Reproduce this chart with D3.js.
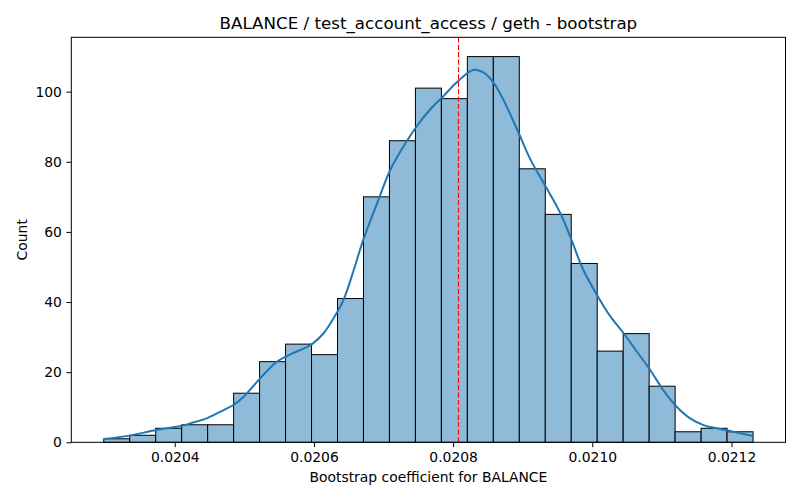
<!DOCTYPE html>
<html>
<head>
<meta charset="utf-8">
<script src="https://cdn.jsdelivr.net/npm/d3@7"></script>
<style>
  html, body { margin: 0; padding: 0; background: #fff; }
  svg { display: block; font-family: "DejaVu Sans", sans-serif; }
</style>
</head>
<body>
<svg id="chart" width="800" height="500"></svg>
<script>
// ---- data ----
const binStart = 0.020298;
const binWidth = 0.00003732;
const counts = [1, 2, 4, 5, 5, 14, 23, 28, 25, 41, 70, 86, 101, 98, 110, 110, 78, 65, 51, 26, 31, 16, 3, 4, 3];
const kdeX = [0.020298, 0.020335, 0.020373, 0.020410, 0.0204225, 0.0204465, 0.0204704, 0.0204847, 0.0204991, 0.0205230,
              0.0205470, 0.0205661, 0.0205852, 0.0205973, 0.0206139, 0.0206283, 0.0206427, 0.020657, 0.020671, 0.020691,
              0.020710, 0.020729, 0.020748, 0.020767, 0.020786, 0.020805, 0.020829, 0.020844, 0.020858, 0.020872,
              0.020892, 0.020911, 0.020930, 0.020954, 0.020970, 0.020987, 0.021008, 0.021026, 0.021045, 0.021064,
              0.021083, 0.021102, 0.021121, 0.021140, 0.021160, 0.021179, 0.021198, 0.021231];
const kdeY = [0.95, 1.9, 3.5, 4.7, 5.4, 6.9, 9.2, 10.7, 13.0, 18.3,
              23.0, 25.1, 26.7, 28.0, 31.1, 35.4, 40.7, 49.0, 57.8, 68.3,
              77.8, 84.5, 90.2, 94.9, 98.7, 102.6, 106.2, 105.4, 102.6, 97.8,
              89.2, 80.7, 74.0, 65.4, 57.8, 49.2, 41.6, 35.9, 31.1, 25.9,
              20.7, 14.9, 10.2, 6.9, 4.9, 4.0, 3.2, 1.8];
const meanValue = 0.020807;
const xTicks = [0.0204, 0.0206, 0.0208, 0.0210, 0.0212];
const yTicks = [0, 20, 40, 60, 80, 100];
const titleText = "BALANCE / test_account_access / geth - bootstrap";
const xLabel = "Bootstrap coefficient for BALANCE";
const yLabel = "Count";

// ---- layout ----
const svg = d3.select("#chart");
const mLeft = 71.3, mRight = 785.5, mTop = 37.3, mBottom = 442.3;

const bins = counts.map((c, i) => ({ x0: binStart + i * binWidth, x1: binStart + (i + 1) * binWidth, c }));
const xMin = binStart, xMax = binStart + counts.length * binWidth;
const xPad = (xMax - xMin) * 0.05;
const x = d3.scaleLinear().domain([xMin - xPad, xMax + xPad]).range([mLeft, mRight]);
const yMax = Math.max(d3.max(counts), d3.max(kdeY)) * 1.05;
const y = d3.scaleLinear().domain([0, yMax]).range([mBottom, mTop]);

// bars
svg.append("g").selectAll("rect").data(bins).enter().append("rect")
  .attr("x", d => x(d.x0))
  .attr("y", d => y(d.c))
  .attr("width", d => x(d.x1) - x(d.x0))
  .attr("height", d => y(0) - y(d.c))
  .attr("fill", "#8fbbd9")
  .attr("stroke", "#000")
  .attr("stroke-width", 1);

// kde
const kde = kdeX.map((v, i) => [v, kdeY[i]]);
svg.append("path").datum(kde)
  .attr("d", d3.line().x(d => x(d[0])).y(d => y(d[1])).curve(d3.curveCatmullRom.alpha(0.5)))
  .attr("fill", "none")
  .attr("stroke", "#1f77b4")
  .attr("stroke-width", 2)
  .attr("stroke-linecap", "round");

// mean line
const mx = Math.round(x(meanValue)) + 0.5;
svg.append("line")
  .attr("x1", mx).attr("x2", mx)
  .attr("y1", mTop).attr("y2", mBottom)
  .attr("stroke", "red").attr("stroke-width", 1.1)
  .attr("stroke-dasharray", "5.2,2.2");

// axes
const xAxis = d3.axisBottom(x).tickValues(xTicks).tickFormat(d3.format(".4f")).tickSize(4.9).tickPadding(4.5);
const yAxis = d3.axisLeft(y).tickValues(yTicks).tickSize(4.9).tickPadding(4.5);

const gx = svg.append("g").attr("transform", `translate(0,${mBottom})`).call(xAxis);
const gy = svg.append("g").attr("transform", `translate(${mLeft},0)`).call(yAxis);
[gx, gy].forEach(g => {
  g.select(".domain").remove();
  g.selectAll(".tick line").attr("stroke", "#000").attr("stroke-width", 1);
  g.selectAll(".tick text").attr("fill", "#000").style("font-size", "13.9px").style("font-family", "DejaVu Sans");
});

// frame
svg.append("rect")
  .attr("x", mLeft).attr("y", mTop)
  .attr("width", mRight - mLeft).attr("height", mBottom - mTop)
  .attr("fill", "none").attr("stroke", "#000").attr("stroke-width", 1);

// texts
svg.append("text").attr("x", (mLeft + mRight) / 2).attr("y", 29)
  .attr("text-anchor", "middle").style("font-size", "16.7px").attr("fill", "#000")
  .text(titleText);
svg.append("text").attr("x", (mLeft + mRight) / 2).attr("y", 481.5)
  .attr("text-anchor", "middle").style("font-size", "13.9px").attr("fill", "#000")
  .text(xLabel);
svg.append("text").attr("transform", `translate(26.5,${(mTop + mBottom) / 2}) rotate(-90)`)
  .attr("text-anchor", "middle").style("font-size", "13.9px").attr("fill", "#000")
  .text(yLabel);
</script>
</body>
</html>
